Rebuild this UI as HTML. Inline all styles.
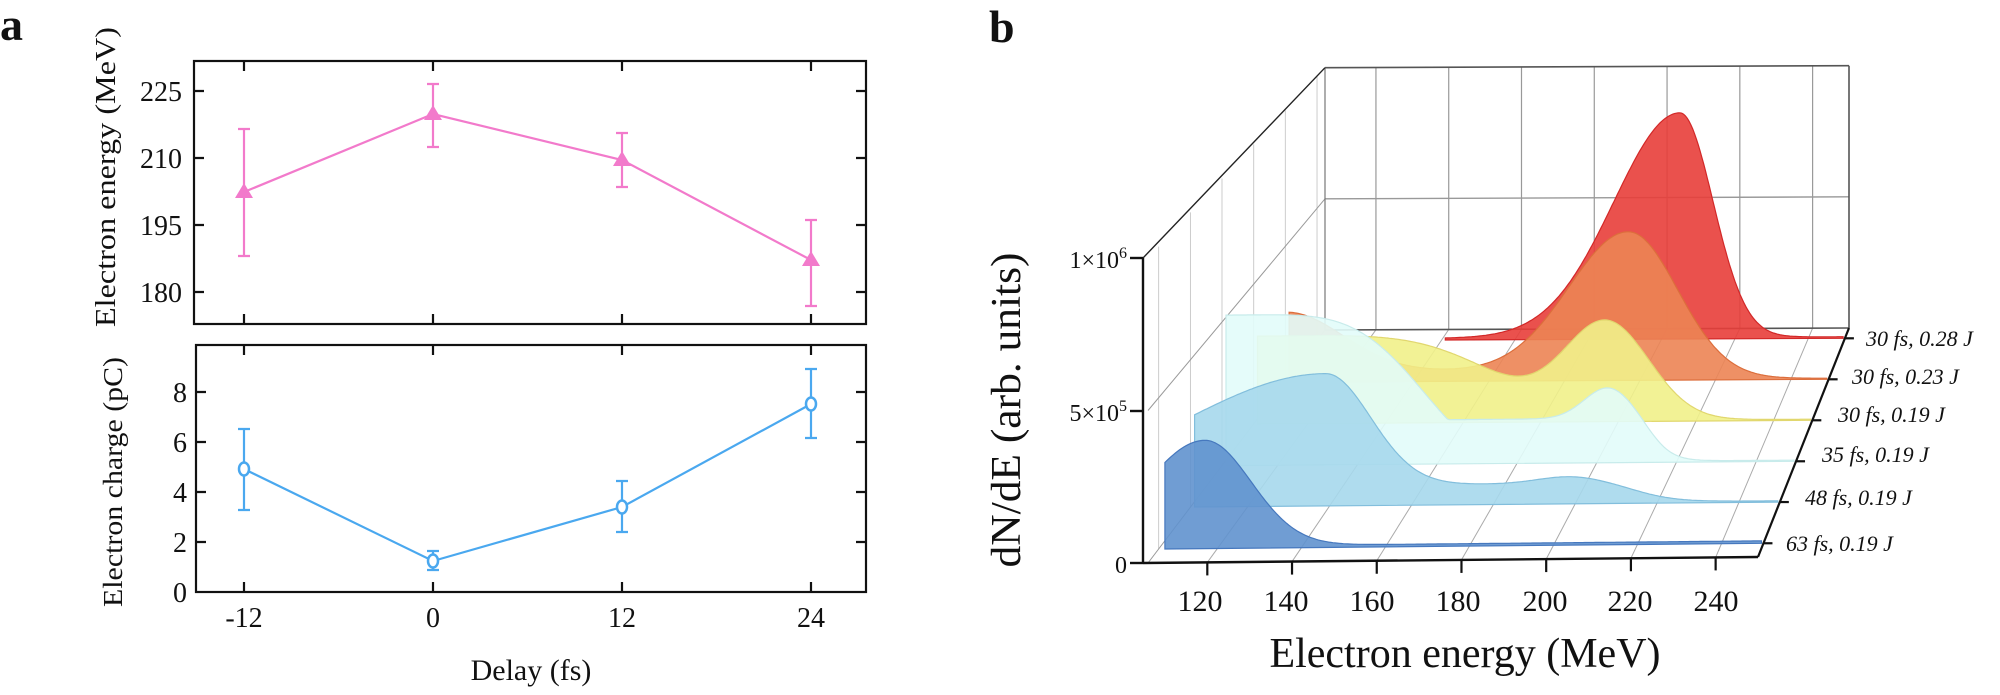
<!DOCTYPE html>
<html><head><meta charset="utf-8">
<style>
html,body{margin:0;padding:0;background:#fff;}
svg{display:block;}
text{font-family:"Liberation Serif",serif;fill:#111;}
</style></head>
<body>
<svg id="s" width="2000" height="695" viewBox="0 0 2000 695" xmlns="http://www.w3.org/2000/svg">
<rect width="2000" height="695" fill="#fff"/>
<text x="0" y="40" font-size="46" font-weight="bold">a</text>
<text x="989" y="42" font-size="46" font-weight="bold">b</text>

<g stroke="#111" stroke-width="2.2" fill="none">
<rect x="194" y="61" width="672" height="263"/>
<path d="M244 61v10M433 61v10M622 61v10M811 61v10M244 324v-10M433 324v-10M622 324v-10M811 324v-10
M194 91h10M194 158h10M194 225h10M194 292h10M866 91h-10M866 158h-10M866 225h-10M866 292h-10"/>
<rect x="196" y="345" width="670" height="247"/>
<path d="M244 345v10M433 345v10M622 345v10M811 345v10M244 592v-10M433 592v-10M622 592v-10M811 592v-10
M196 392h10M196 442h10M196 492h10M196 542h10M866 392h-10M866 442h-10M866 492h-10M866 542h-10"/>
</g>
<g font-size="28" text-anchor="end">
<text x="182" y="101">225</text><text x="182" y="168">210</text><text x="182" y="235">195</text><text x="182" y="302">180</text>
<text x="187" y="402">8</text><text x="187" y="452">6</text><text x="187" y="502">4</text><text x="187" y="552">2</text><text x="187" y="602">0</text>
</g>
<g font-size="28" text-anchor="middle">
<text x="244" y="627">-12</text><text x="433" y="627">0</text><text x="622" y="627">12</text><text x="811" y="627">24</text>
<text x="531" y="680" font-size="30">Delay (fs)</text>
</g>
<text transform="translate(115,177) rotate(-90)" font-size="29" text-anchor="middle" textLength="300" lengthAdjust="spacingAndGlyphs">Electron energy (MeV)</text>
<text transform="translate(122,482) rotate(-90)" font-size="27" text-anchor="middle" textLength="250" lengthAdjust="spacingAndGlyphs">Electron charge (pC)</text>

<g stroke="#f27acb" stroke-width="2.2" fill="none">
<polyline points="244,192 433,114 622,160 811,260"/>
<path d="M244 129V256M238 129h12M238 256h12
M433 84V147M427 84h12M427 147h12
M622 133V187M616 133h12M616 187h12
M811 220V306M805 220h12M805 306h12"/>
</g>
<g fill="#f27acb">
<polygon points="244,183 235,198 253,198"/>
<polygon points="433,105 424,120 442,120"/>
<polygon points="622,151 613,166 631,166"/>
<polygon points="811,251 802,266 820,266"/>
</g>
<g stroke="#4aa8ef" stroke-width="2.2" fill="none">
<polyline points="244,469 433,561 622,507 811,404"/>
<path d="M244 429V510M238 429h12M238 510h12
M433 551V570M427 551h12M427 570h12
M622 481V532M616 481h12M616 532h12
M811 369V438M805 369h12M805 438h12"/>
</g>
<g fill="#fff" stroke="#4aa8ef" stroke-width="2.5">
<ellipse cx="244" cy="469" rx="5" ry="6.5"/>
<ellipse cx="433" cy="561" rx="5" ry="6.5"/>
<ellipse cx="622" cy="507" rx="5" ry="6.5"/>
<ellipse cx="811" cy="404" rx="5" ry="6.5"/>
</g>

<g id="grid"></g>
<g id="series"></g>
<g id="axes"></g>
<g font-size="24" text-anchor="end">
<text x="1127" y="268">1×10<tspan dy="-10" font-size="16">6</tspan></text>
<text x="1127" y="421">5×10<tspan dy="-10" font-size="16">5</tspan></text>
<text x="1127" y="573">0</text>
</g>
<text transform="translate(1020,410) rotate(-90)" font-size="42" text-anchor="middle" textLength="315" lengthAdjust="spacingAndGlyphs">dN/dE (arb. units)</text>
<g font-size="30" text-anchor="middle">
<text x="1200" y="611">120</text><text x="1286" y="611">140</text><text x="1372" y="611">160</text><text x="1458" y="611">180</text><text x="1545" y="611">200</text><text x="1630" y="611">220</text><text x="1716" y="611">240</text>
</g>
<text x="1465" y="667" font-size="42" text-anchor="middle">Electron energy (MeV)</text>
<g font-size="22" font-style="italic">
<text x="1866" y="346">30 fs, 0.28 J</text>
<text x="1852" y="384">30 fs, 0.23 J</text>
<text x="1838" y="422">30 fs, 0.19 J</text>
<text x="1822" y="462">35 fs, 0.19 J</text>
<text x="1805" y="505">48 fs, 0.19 J</text>
<text x="1786" y="551">63 fs, 0.19 J</text>
</g>
</svg>
<script>
(function(){
var NS="http://www.w3.org/2000/svg";
function L(t){return [1148+177*t,563-233*t];}
function R(t){return [1758+91*t,557-229*t];}
function P(E,t,h){var l=L(t),r=R(t),f=(E-106)/144;
 var x=l[0]+f*(r[0]-l[0]),y=l[1]+f*(r[1]-l[1]);return [x,y-h*305*(1-0.14*t)];}
function line(g,a,b,c,w){var e=document.createElementNS(NS,"line");e.setAttribute("x1",a[0]);e.setAttribute("y1",a[1]);e.setAttribute("x2",b[0]);e.setAttribute("y2",b[1]);e.setAttribute("stroke",c);e.setAttribute("stroke-width",w);g.appendChild(e);}
var g=document.getElementById("grid"),ax=document.getElementById("axes"),sg=document.getElementById("series");
var Es=[120,140,160,180,200,220,240],Ts=[0.06,0.24,0.418,0.597,0.776,0.955];
Es.forEach(function(E){line(g,P(E,0,0),P(E,1,0),"#aaa",1);line(g,P(E,1,0),P(E,1,1),"#999",1.2);});
Ts.forEach(function(t){line(g,P(106,t,0),P(106,t,1),"#ccc",1);});
line(g,P(106,0,0.5),P(106,1,0.5),"#999",1);line(g,P(106,1,0.5),P(250,1,0.5),"#999",1.4);
line(g,P(106,0,0),P(106,1,0),"#999",1);line(g,P(106,1,0),P(250,1,0),"#555",1.6);
line(g,P(106,1,1),P(250,1,1),"#555",1.6);line(g,P(250,1,0),P(250,1,1),"#555",1.6);
line(g,P(106,1,0),P(106,1,1),"#777",1.2);
line(g,[1143,258],P(106,1,1),"#222",1.4);
function ga(E,c,sl,sr){var s=E<c?sl:sr;return Math.exp(-(E-c)*(E-c)/(2*s*s));}
function dn(E,c,w){return 1/(1+Math.exp((E-c)/w));}
var S=[
 {t:0.955,c:"rgb(232,62,58)",s:"rgb(210,40,40)",e0:141,f:function(E){return 0.85*ga(E,205,18,9)+0.006;}},
 {t:0.776,c:"rgb(236,132,84)",s:"rgb(220,110,60)",e0:107,f:function(E){var d=Math.max(0,E-106);return 0.25*Math.exp(-Math.pow(d/22,2))+0.03*Math.exp(-Math.pow((E-150)/30,2))+0.54*ga(E,197,16,13)+0.004;}},
 {t:0.597,c:"rgb(241,241,138)",s:"rgb(225,215,110)",e0:107,f:function(E){return 0.31*Math.exp(-Math.pow(Math.max(0,E-115)/60,4))+0.35*ga(E,197,11,11)+0.004;}},
 {t:0.418,c:"rgb(226,252,250)",s:"rgb(200,235,235)",e0:107,f:function(E){return Math.max(0.52*Math.exp(-Math.pow(Math.max(0,E-112)/48,4)),0.15*dn(E,214,3))+0.11*ga(E,203,6,6)+0.004;}},
 {t:0.24,c:"rgb(166,216,236)",s:"rgb(130,190,220)",e0:107,f:function(E){return 0.38*ga(E,139,34,11)+0.065*dn(E,216,5)+0.025*ga(E,199,8,8)+0.004;}},
 {t:0.06,c:"rgb(96,146,206)",s:"rgb(70,120,190)",e0:107.5,f:function(E){return 0.35*ga(E,117,14,11)+0.008;}}
];
S.forEach(function(o){
 var d="",p;p=P(o.e0,o.t,0);d+="M"+p[0].toFixed(1)+" "+p[1].toFixed(1);
 for(var E=o.e0;E<=249.5;E+=0.5){p=P(E,o.t,o.f(E));d+="L"+p[0].toFixed(1)+" "+p[1].toFixed(1);}
 p=P(249.5,o.t,0);d+="L"+p[0].toFixed(1)+" "+p[1].toFixed(1)+"Z";
 var e=document.createElementNS(NS,"path");e.setAttribute("d",d);e.setAttribute("fill",o.c);e.setAttribute("fill-opacity","0.9");e.setAttribute("stroke",o.s);e.setAttribute("stroke-width","1.2");sg.appendChild(e);
});
line(ax,[1143,258],[1143,563],"#111",2.4);
[258,411,563].forEach(function(y){line(ax,[1130,y],[1143,y],"#111",2.4);});
line(ax,[1143,563],R(0),"#111",2.4);
Es.forEach(function(E){var p=P(E,0,0);line(ax,p,[p[0],p[1]+13],"#111",2.2);});
line(ax,R(0),R(1),"#111",2.2);
Ts.forEach(function(t){var p=R(t);line(ax,p,[p[0]+9,p[1]],"#111",2.2);});
})();
</script>
</body></html>
